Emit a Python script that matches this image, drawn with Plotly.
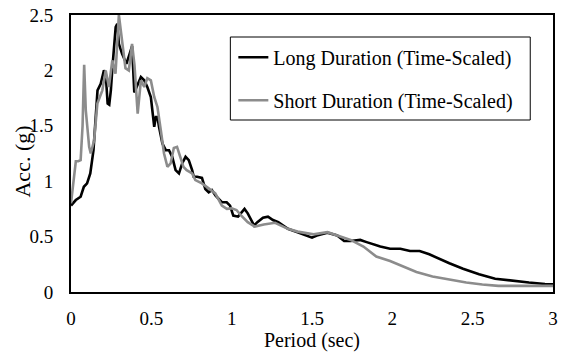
import plotly.graph_objects as go

# Response spectra: period (sec) vs spectral acceleration (g)
long_period = [0, 0.01, 0.03, 0.06, 0.08, 0.10, 0.12, 0.14, 0.155, 0.165, 0.185, 0.205,
               0.216, 0.228, 0.238, 0.248, 0.258, 0.268, 0.278, 0.288, 0.298, 0.318, 0.345,
               0.365, 0.38, 0.394, 0.415, 0.435, 0.456, 0.475, 0.497, 0.507, 0.518, 0.528,
               0.538, 0.548, 0.569, 0.59, 0.61, 0.63, 0.651, 0.672, 0.692, 0.713, 0.733,
               0.754, 0.764, 0.785, 0.815, 0.836, 0.857, 0.877, 0.90, 0.939, 0.969, 0.99,
               1.01, 1.04, 1.06, 1.08, 1.10, 1.12, 1.14, 1.16, 1.195, 1.226, 1.257, 1.29,
               1.35, 1.41, 1.47, 1.50, 1.53, 1.596, 1.657, 1.70, 1.74, 1.80, 1.84, 1.925,
               1.986, 2.05, 2.11, 2.17, 2.23, 2.29, 2.355, 2.44, 2.54, 2.64, 2.746, 2.85,
               2.95, 3.0]
long_acc = [0.78, 0.80, 0.83, 0.86, 0.95, 0.98, 1.07, 1.28, 1.64, 1.82, 1.88, 2.0,
            1.97, 1.70, 1.69, 1.82, 2.03, 2.24, 2.39, 2.42, 2.24, 2.15, 2.06,
            2.15, 2.22, 1.80, 1.88, 1.94, 1.91, 1.85, 1.76, 1.61, 1.49, 1.58,
            1.58, 1.49, 1.34, 1.28, 1.28, 1.22, 1.10, 1.07, 1.16, 1.22, 1.19,
            1.10, 1.04, 1.04, 1.03, 0.93, 0.90, 0.92, 0.87, 0.81, 0.81, 0.78,
            0.69, 0.68, 0.72, 0.75, 0.71, 0.65, 0.60, 0.63, 0.67, 0.68, 0.65, 0.63,
            0.57, 0.54, 0.51, 0.49, 0.51, 0.535, 0.51, 0.46, 0.46, 0.47, 0.45, 0.41,
            0.39, 0.39, 0.37, 0.37, 0.34, 0.30, 0.26, 0.21, 0.16, 0.12, 0.10, 0.085,
            0.072, 0.07]

short_period = [0, 0.015, 0.03, 0.045, 0.06, 0.072, 0.082, 0.092, 0.113, 0.123, 0.144,
                0.164, 0.195, 0.216, 0.236, 0.257, 0.277, 0.298, 0.318, 0.339, 0.36, 0.38,
                0.395, 0.415, 0.435, 0.456, 0.475, 0.497, 0.518, 0.538, 0.559, 0.579, 0.60,
                0.62, 0.64, 0.66, 0.68, 0.70, 0.72, 0.754, 0.774, 0.815, 0.857, 0.898,
                0.939, 0.97, 1.0, 1.03, 1.06, 1.10, 1.144, 1.2, 1.27, 1.35, 1.41, 1.51,
                1.596, 1.657, 1.74, 1.82, 1.90, 1.986, 2.07, 2.15, 2.25, 2.355, 2.46,
                2.56, 2.66, 2.78, 3.0]
short_acc = [0.80, 1.0, 1.18, 1.18, 1.19, 1.5, 2.05, 1.64, 1.31, 1.25, 1.37,
             1.70, 1.82, 2.0, 1.85, 2.09, 1.97, 2.5, 2.24, 2.02, 2.0, 2.24,
             2.05, 1.61, 1.91, 1.85, 1.93, 1.91, 1.76, 1.67, 1.46, 1.25, 1.13,
             1.16, 1.30, 1.31, 1.22, 1.13, 1.10, 1.07, 1.01, 0.98, 0.935, 0.89,
             0.78, 0.75, 0.755, 0.74, 0.69, 0.63, 0.59, 0.61, 0.625, 0.57, 0.545, 0.52,
             0.54, 0.51, 0.47, 0.41, 0.32, 0.28, 0.23, 0.18, 0.14, 0.11, 0.085,
             0.067, 0.055, 0.055, 0.055]

x_ticks = [0, 0.5, 1, 1.5, 2, 2.5, 3]
x_tick_text = ["0", "0.5", "1", "1.5", "2", "2.5", "3"]
y_ticks = [0, 0.5, 1, 1.5, 2, 2.5]
y_tick_text = ["0", "0.5", "1", "1.5", "2", "2.5"]

FONT = "Liberation Serif"

fig = go.Figure()
fig.add_trace(go.Scatter(
    x=long_period, y=long_acc, mode="lines",
    name="Long Duration (Time-Scaled)", legendgroup="long",
    line=dict(color="#000000", width=2.6),
))
fig.add_trace(go.Scatter(
    x=short_period, y=short_acc, mode="lines",
    name="Short Duration (Time-Scaled)", legendgroup="short",
    line=dict(color="#8c8c8c", width=2.6),
))

fig.update_layout(
    width=561, height=352,
    margin=dict(l=71, r=3, t=15, b=60),
    paper_bgcolor="white", plot_bgcolor="white",
    font=dict(family=FONT, color="black", size=19),
    showlegend=True,
    legend=dict(
        x=0.3368, y=0.918, xanchor="left", yanchor="top",
        borderwidth=0, bgcolor="rgba(255,255,255,0)",
        font=dict(family=FONT, size=20, color="black"),
        itemwidth=30, tracegroupgap=14,
    ),
    # Frame around the legend entries
    shapes=[dict(
        type="rect", xref="paper", yref="paper",
        x0=(232 - 71) / 487, x1=(535 - 71) / 487,
        y0=(292 - 120) / 277, y1=(292 - 37) / 277,
        line=dict(color="black", width=1), fillcolor="white", layer="below",
    )],
    annotations=[dict(
        text="Acc. (g)", textangle=-90, showarrow=False,
        xref="paper", yref="paper", x=(21 - 71) / 487, y=(292 - 162) / 277,
        xanchor="center", yanchor="middle",
        font=dict(family=FONT, size=22, color="black"),
    )],
)

fig.update_xaxes(
    range=[0, 3], tickvals=x_ticks, ticktext=x_tick_text,
    showgrid=False, zeroline=False, ticks="",
    showline=True, linecolor="black", linewidth=2, mirror=True,
    ticklabelstandoff=8,
    title=dict(text="Period (sec)", font=dict(family=FONT, size=20), standoff=1),
)
fig.update_yaxes(
    range=[0, 2.5], tickvals=y_ticks, ticktext=y_tick_text,
    showgrid=False, zeroline=False, ticks="",
    showline=True, linecolor="black", linewidth=2, mirror=True,
    ticklabelstandoff=12,
)

fig.write_html("out.html")
